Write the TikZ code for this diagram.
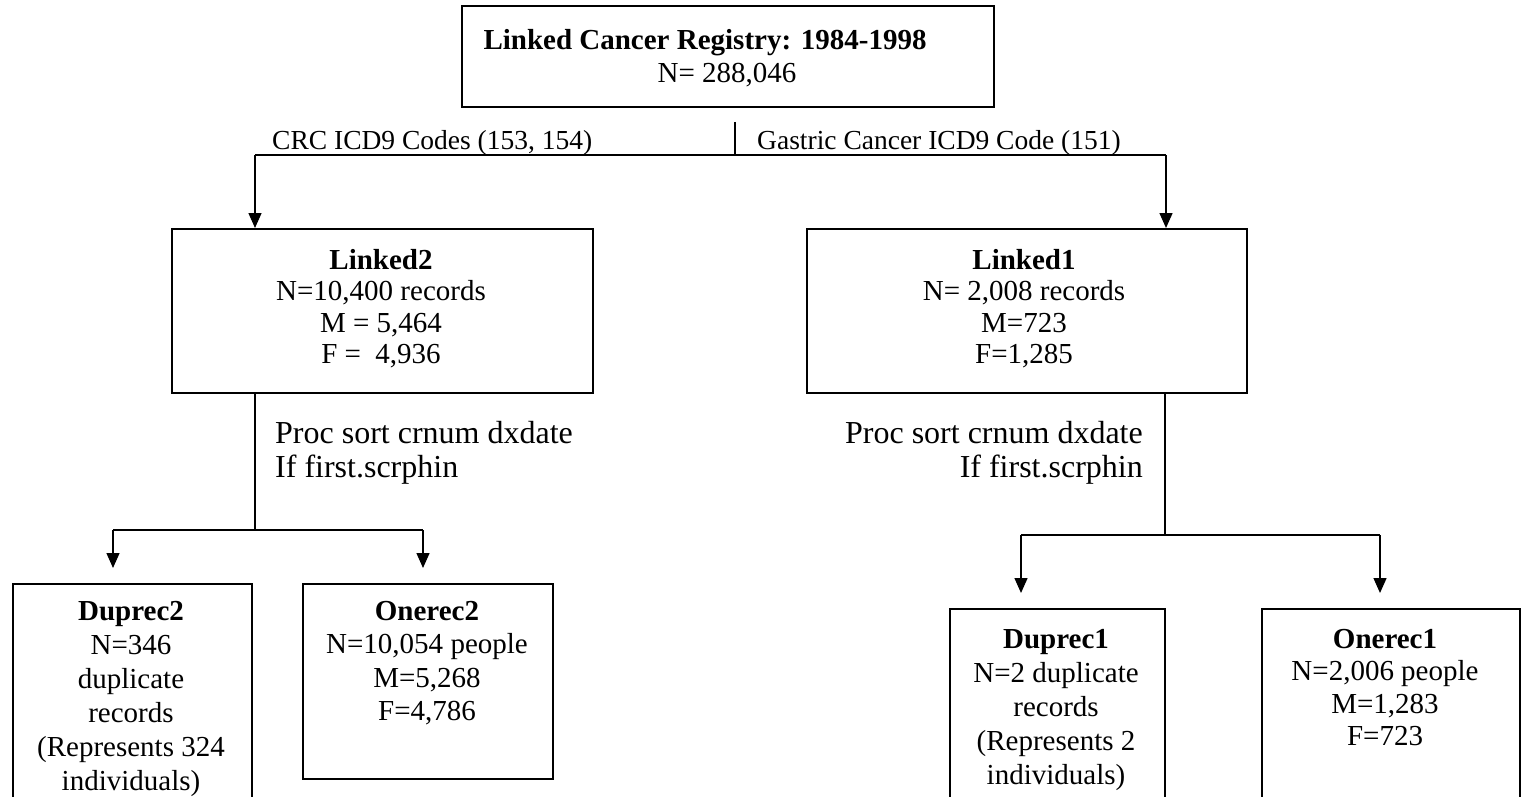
\documentclass[tikz,border=0pt]{standalone}
\usepackage{fontspec}
\setmainfont{Liberation Serif}
\usetikzlibrary{arrows.meta}
\begin{document}
\begin{tikzpicture}[x=1pt,y=-1pt,
  box/.style={draw,line width=1.6pt,inner sep=0pt},
  txt/.style={anchor=north,align=center,inner sep=0pt,font=\fontsize{29}{33}\selectfont},
  proc/.style={inner sep=0pt,font=\fontsize{32}{34}\selectfont},
  lbl/.style={inner sep=0pt,font=\fontsize{27.5}{30}\selectfont},
  lnk/.style={line width=1.4pt},
  arr/.style={line width=1.4pt,-{Triangle[length=15pt,width=13pt]}}]
\useasboundingbox (0,0) rectangle (1522,797);
\clip (0,0) rectangle (1522,797);
% boxes
\node[box,minimum width=532pt,minimum height=101pt,anchor=north west] (top) at (461,5) {};
\node[box,minimum width=421pt,minimum height=164pt,anchor=north west] (l2) at (171,228) {};
\node[box,minimum width=440pt,minimum height=164pt,anchor=north west] (l1) at (806,228) {};
\node[box,minimum width=239pt,minimum height=220pt,anchor=north west] (dup2) at (12,583) {};
\node[box,minimum width=250pt,minimum height=195pt,anchor=north west] (one2) at (302,583) {};
\node[box,minimum width=215pt,minimum height=200pt,anchor=north west] (dup1) at (949,608) {};
\node[box,minimum width=258pt,minimum height=200pt,anchor=north west] (one1) at (1261,608) {};
% texts
\node[txt,font=\fontsize{29}{33}\selectfont] (toptxt) at (727,29) {\textbf{Linked Cancer Registry: 1984-1998}\hspace*{44pt}\\N= 288,046};
\node[txt,font=\fontsize{29}{31.5}\selectfont] (l2txt) at (381,249) {\textbf{Linked2}\\N=10,400 records\\M = 5,464\\F = \ 4,936};
\node[txt,font=\fontsize{29}{31.5}\selectfont] (l1txt) at (1024,249) {\textbf{Linked1}\\N= 2,008 records\\M=723\\F=1,285};
\node[txt,font=\fontsize{29}{34}\selectfont] (dup2txt) at (131,601) {\textbf{Duprec2}\\N=346\\duplicate\\records\\(Represents 324\\individuals)};
\node[txt,font=\fontsize{29}{33.5}\selectfont] (one2txt) at (427,601) {\textbf{Onerec2}\\N=10,054 people\\M=5,268\\F=4,786};
\node[txt,font=\fontsize{29}{34}\selectfont] (dup1txt) at (1056,629) {\textbf{Duprec1}\\N=2 duplicate\\records\\(Represents 2\\individuals)};
\node[txt,font=\fontsize{29}{32.5}\selectfont] (one1txt) at (1385,629) {\textbf{Onerec1}\\N=2,006 people\\M=1,283\\F=723};
\node[proc,anchor=north west,align=left] (procL) at (275,421) {Proc sort crnum dxdate\\If first.scrphin};
\node[proc,anchor=north east,align=right] (procR) at (1143,421) {Proc sort crnum dxdate\\If first.scrphin};
\node[lbl,anchor=base west] (crc) at (272,149) {CRC ICD9 Codes (153, 154)};
\node[lbl,anchor=base west] (gas) at (757,149) {Gastric Cancer ICD9 Code (151)};
% connectors
\coordinate (stem) at (735,122);
\coordinate (fork) at (735,155);
\coordinate (forkL) at (255,155);
\coordinate (forkR) at (1166,155);
\draw[lnk] (stem) -- (fork);
\draw[lnk] (forkL) -- (forkR);
\draw[arr] (forkL) -- (forkL |- l2.north);
\draw[arr] (forkR) -- (forkR |- l1.north);
\coordinate (sL) at (255,530);
\coordinate (sLa) at (113,530);
\coordinate (sLb) at (423,530);
\draw[lnk] (sL |- l2.south) -- (sL);
\draw[lnk] (sLa) -- (sLb);
\draw[arr,shorten >=15pt] (sLa) -- (sLa |- dup2.north);
\draw[arr,shorten >=15pt] (sLb) -- (sLb |- one2.north);
\coordinate (sR) at (1165,535);
\coordinate (sRa) at (1021,535);
\coordinate (sRb) at (1380,535);
\draw[lnk] (sR |- l1.south) -- (sR);
\draw[lnk] (sRa) -- (sRb);
\draw[arr,shorten >=15pt] (sRa) -- (sRa |- dup1.north);
\draw[arr,shorten >=15pt] (sRb) -- (sRb |- one1.north);
\end{tikzpicture}
\end{document}
